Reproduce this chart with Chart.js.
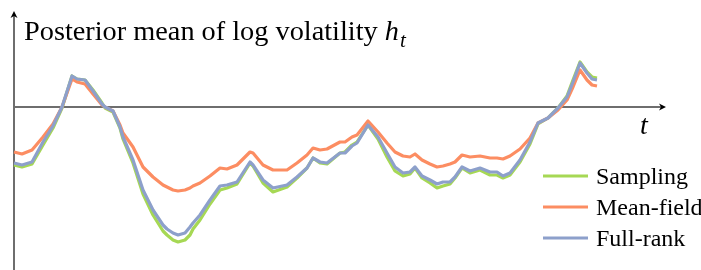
<!DOCTYPE html>
<html>
<head>
<meta charset="utf-8">
<script src="https://cdn.jsdelivr.net/npm/chart.js@4.4.1/dist/chart.umd.min.js"></script>
<style>
  html, body { margin: 0; padding: 0; background: #fff; }
  #wrap { width: 701px; height: 270px; }
</style>
</head>
<body>
<div id="wrap"><canvas id="volChart" width="701" height="270"></canvas></div>
<script>
// time steps
const timeSteps = [0,8,18,29,39,48,58,63,71,79, 88,91,99,106,109,119,129,139,149,153,
  159,164,171,176,179,186,196,206,213,223, 236,239,249,259,273,283,293,299,306,313,
  326,331,338,343,354,364,373,381,389,396, 401,408,416,423,429,436,441,448,456,466,
  476,483,489,496,506,516,524,534,544,553, 559,566,573,578,583];

const sampling = [-5.8,-6.0,-5.7,-3.8,-2.1,-0.1,3.1,2.8,2.7,1.7, 0.4,-0.1,-0.5,-2.1,-3.2,-5.6,-8.7,-10.8,-12.4,-12.8,
  -13.3,-13.5,-13.3,-12.8,-12.2,-11.3,-9.7,-8.3,-8.1,-7.7, -5.6,-5.9,-7.6,-8.5,-8.0,-7.1,-6.1,-5.1,-5.6,-5.7,
  -4.6,-4.5,-3.8,-3.5,-1.8,-3.2,-5.0,-6.4,-6.9,-6.7, -6.1,-7.1,-7.6,-8.1,-7.9,-7.7,-7.1,-6.1,-6.6,-6.3,
  -6.8,-6.8,-7.1,-6.8,-5.5,-3.7,-1.7,-1.1,-0.1,1.1, 2.7,4.5,3.5,3.0,2.9];

const meanField = [-4.5,-4.7,-4.3,-3.0,-1.7,0,2.8,2.5,2.3,1.3, 0.2,0,-0.4,-1.8,-2.6,-4.0,-6.0,-7.0,-7.8,-8.0,
  -8.3,-8.4,-8.3,-8.1,-7.9,-7.6,-6.9,-6.1,-6.2,-5.8, -4.5,-4.6,-5.8,-6.3,-6.3,-5.6,-4.8,-4.1,-4.3,-4.2,
  -3.5,-3.5,-3.0,-2.8,-1.4,-2.5,-3.6,-4.5,-4.9,-5.0, -4.7,-5.3,-5.7,-6.0,-5.9,-5.7,-5.5,-4.8,-5.0,-4.9,
  -5.1,-5.1,-5.2,-4.9,-4.2,-3.1,-1.6,-1.1,-0.3,0.7, 2.0,3.7,2.7,2.2,2.1];

const fullRank = [-5.6,-5.8,-5.5,-3.5,-1.9,0,3.1,2.8,2.7,1.6, 0.3,0,-0.4,-2.0,-3.0,-5.3,-8.3,-10.3,-11.8,-12.2,
  -12.6,-12.8,-12.6,-12.0,-11.6,-10.8,-9.3,-7.9,-7.8,-7.5, -5.5,-5.8,-7.3,-8.1,-7.8,-7.0,-6.1,-5.1,-5.5,-5.6,
  -4.6,-4.6,-3.9,-3.6,-1.8,-3.0,-4.6,-6.0,-6.6,-6.5, -6.0,-6.9,-7.3,-7.7,-7.5,-7.5,-7.0,-6.0,-6.4,-6.1,
  -6.5,-6.5,-6.9,-6.6,-5.3,-3.5,-1.6,-1.1,-0.1,1.0, 2.5,4.4,3.4,2.8,2.7];

const seriesNames = ["Sampling", "Mean-field", "Full-rank"];
const seriesColors = ["#a6d854", "#fc8d62", "#8da0cb"];

function toPoints(vals) {
  return vals.map(function (v, i) { return { x: timeSteps[i], y: v }; });
}

const serif = '"Liberation Serif", "DejaVu Serif", serif';

// axes with arrows, title, t label and legend
const decorPlugin = {
  id: "decor",
  beforeDatasetsDraw(chart) {
    const ctx = chart.ctx;
    const xs = chart.scales.x, ys = chart.scales.y;
    const x0 = xs.getPixelForValue(0);
    const y0 = ys.getPixelForValue(0);
    ctx.save();
    ctx.strokeStyle = "#6e6e6e";
    ctx.lineWidth = 2;
    ctx.beginPath();
    ctx.moveTo(x0, 270);
    ctx.lineTo(x0, 15);
    ctx.moveTo(x0, y0);
    ctx.lineTo(661, y0);
    ctx.stroke();
    // arrow heads
    ctx.fillStyle = "#000";
    ctx.beginPath();
    ctx.moveTo(x0, 11);
    ctx.lineTo(x0 - 3.5, 18);
    ctx.lineTo(x0, 16);
    ctx.lineTo(x0 + 3.5, 18);
    ctx.closePath();
    ctx.fill();
    ctx.beginPath();
    ctx.moveTo(666, y0);
    ctx.lineTo(659, y0 - 3.5);
    ctx.lineTo(661, y0);
    ctx.lineTo(659, y0 + 3.5);
    ctx.closePath();
    ctx.fill();
    ctx.restore();
  },
  afterDraw(chart) {
    const ctx = chart.ctx;
    ctx.save();
    ctx.fillStyle = "#000";
    ctx.textBaseline = "alphabetic";
    ctx.font = "28.3px " + serif;
    const title = "Posterior mean of log volatility ";
    ctx.fillText(title, 24, 40);
    let w = ctx.measureText(title).width;
    ctx.font = "italic 28.3px " + serif;
    ctx.fillText("h", 24 + w, 40);
    let hw = ctx.measureText("h").width;
    ctx.font = "italic 21px " + serif;
    ctx.fillText("t", 24 + w + hw + 1, 47);

    ctx.font = "italic 28px " + serif;
    ctx.fillText("t", 640, 134);

    // legend
    const rows = [176, 207, 238];
    ctx.font = "24px " + serif;
    for (let i = 0; i < 3; i++) {
      ctx.strokeStyle = seriesColors[i];
      ctx.lineWidth = 3;
      ctx.beginPath();
      ctx.moveTo(543, rows[i]);
      ctx.lineTo(588, rows[i]);
      ctx.stroke();
      ctx.fillText(seriesNames[i], 596, rows[i] + 8);
    }
    ctx.restore();
  }
};

const data = {
  datasets: [
    { label: seriesNames[0], data: toPoints(sampling), borderColor: seriesColors[0], order: 3 },
    { label: seriesNames[1], data: toPoints(meanField), borderColor: seriesColors[1], order: 2 },
    { label: seriesNames[2], data: toPoints(fullRank), borderColor: seriesColors[2], order: 1 },
  ],
};

const config = {
  type: "line",
  data: data,
  options: {
    responsive: false,
    animation: false,
    layout: { padding: 0 },
    elements: {
      line: { borderWidth: 3.2, tension: 0, borderJoinStyle: "round", borderCapStyle: "butt", fill: false },
      point: { radius: 0 },
    },
    scales: {
      x: { type: "linear", min: -14, max: 687, display: false },
      y: { type: "linear", min: -16.3, max: 10.7, display: false },
    },
    plugins: {
      legend: { display: false },
      tooltip: { enabled: false },
    },
  },
  plugins: [decorPlugin],
};

const volChart = new Chart(document.getElementById("volChart"), config);
</script>
</body>
</html>
